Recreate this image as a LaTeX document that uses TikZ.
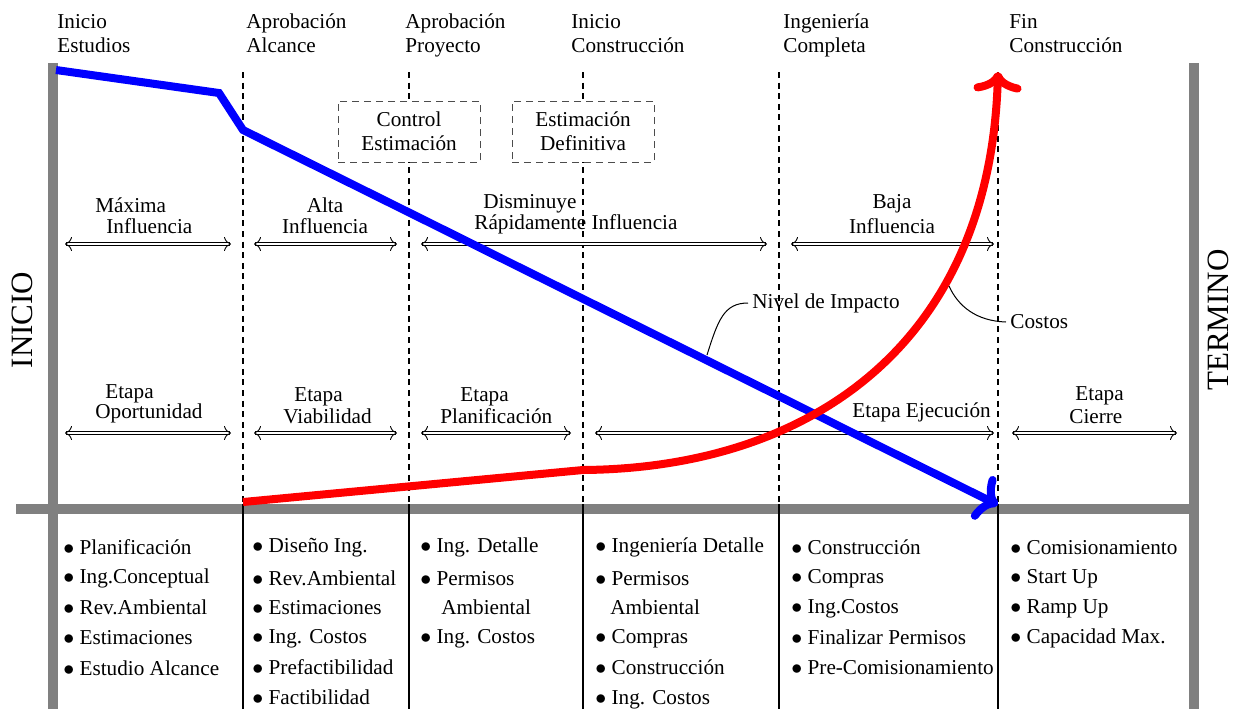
\documentclass[tikz,border=0pt]{standalone}
\usepackage{fontspec}
\setmainfont{Liberation Serif}
\usetikzlibrary{arrows.meta}

\tikzset{
  bar/.style={draw=gray, line width=4.75pt},
  phase/.style={line width=0.8pt, dash pattern=on 3pt off 2.3pt},
  divider/.style={line width=1pt},
  note/.style={draw=black!70, line width=0.5pt, dash pattern=on 3.5pt off 2.5pt,
    fill=white, align=center, minimum width=71pt, minimum height=30.5pt, inner sep=0pt},
  span/.style={double, double distance=0.8pt, line width=0.45pt,
    {To[length=3.5pt,width=7pt]}-{To[length=3.5pt,width=7pt]}},
  impact/.style={blue, line width=4pt, -{To[length=10pt,width=24pt]}},
  cost/.style={red, line width=4pt, -{To[length=10pt,width=24pt]}},
  lbl/.style={inner sep=0pt, anchor=base west, align=left},
  clbl/.style={inner sep=0pt, anchor=base, align=center},
  item/.style={inner sep=0pt, anchor=base west},
  leader/.style={line width=0.5pt},
  side/.style={font=\fontsize{15.5}{18}\selectfont, rotate=90, inner sep=0pt}
}
\newcommand{\bul}{$\bullet$\hspace{0.25em}}

\begin{document}
\begin{tikzpicture}[x=0.5pt, y=-0.5pt, font=\fontsize{10.6}{12}\selectfont]
\useasboundingbox (0,0) rectangle (1236,709);

% milestone dividers: dashed above the time axis, solid below it
\foreach \x [count=\i] in {243,409,583,779,998} {
  \coordinate (mt\i) at (\x,72);
  \coordinate (mm\i) at (\x,504);
  \coordinate (mb\i) at (\x,709);
  \draw[phase] (mt\i) -- (mm\i);
}

% frame bars
\coordinate (lt) at (53,63);   \coordinate (lb) at (53,709);
\coordinate (rt) at (1194,63); \coordinate (rb) at (1194,709);
\coordinate (al) at (16,509);  \coordinate (ar) at (1198,509);
\draw[bar] (lt) -- (lb);
\draw[bar] (rt) -- (rb);
\draw[bar] (al) -- (ar);
\foreach \i in {1,...,5} \draw[divider] (mm\i) -- (mb\i);

% side titles
\node[side] (inicio) at (22,320) {INICIO};
\node[side] (termino) at (1218,320) {TERMINO};

% milestone names
\node[lbl] (m0) at (57,52) {Inicio\\Estudios};
\node[lbl] (m1) at (246,52) {Aprobación\\Alcance};
\node[lbl] (m2) at (405,52) {Aprobación\\Proyecto};
\node[lbl] (m3) at (571,52) {Inicio\\Construcción};
\node[lbl] (m4) at (783,52) {Ingeniería\\Completa};
\node[lbl] (m5) at (1009,52) {Fin\\Construcción};

% estimate boxes
\node[note] (ctrl) at (409,131.5) {Control\\Estimación};
\node[note] (defi) at (583,131.5) {Estimación\\Definitiva};

% influence spans
\coordinate (i1a) at (65,244);  \coordinate (i1b) at (231,244);
\coordinate (i2a) at (254,244); \coordinate (i2b) at (397,244);
\coordinate (i3a) at (421,244); \coordinate (i3b) at (767,244);
\coordinate (i4a) at (791,244); \coordinate (i4b) at (994,244);
\draw[span] (i1a) -- (i1b);
\draw[span] (i2a) -- (i2b);
\draw[span] (i3a) -- (i3b);
\draw[span] (i4a) -- (i4b);
\node[lbl] (inf1) at (95,233) {Máxima\\[-1.5pt]\hspace*{5.5pt}Influencia};
\node[clbl] (inf2) at (325,233) {Alta\\[-1.5pt]Influencia};
\node[lbl] (inf3) at (474,229) {\hspace*{4.5pt}Disminuye\\[-1.5pt]Rápidamente Influencia};
\node[clbl] (inf4) at (892,233) {Baja\\[0.5pt]Influencia};

% stage spans
\coordinate (s1a) at (65,433);   \coordinate (s1b) at (231,433);
\coordinate (s2a) at (254,433);  \coordinate (s2b) at (397,433);
\coordinate (s3a) at (421,433);  \coordinate (s3b) at (571,433);
\coordinate (s4a) at (595,433);  \coordinate (s4b) at (994,433);
\coordinate (s5a) at (1012,433); \coordinate (s5b) at (1177,433);
\draw[span] (s1a) -- (s1b);
\draw[span] (s2a) -- (s2b);
\draw[span] (s3a) -- (s3b);
\draw[span] (s4a) -- (s4b);
\draw[span] (s5a) -- (s5b);
\node[lbl] (st1) at (95,418) {\hspace*{5pt}Etapa\\[-2pt]Oportunidad};
\node[lbl] (st2) at (283,423) {\hspace*{5.5pt}Etapa\\[-1pt]Viabilidad};
\node[lbl] (st3) at (440,423) {\hspace*{10pt}Etapa\\[-1pt]Planificación};
\node[lbl] (st4) at (852,417) {Etapa Ejecución};
\node[lbl] (st5) at (1069,423) {\hspace*{3pt}Etapa\\[-0.5pt]Cierre};

% activities per stage
\node[item] (a11) at (63,554) {\bul Planificación};
\node[item] (a12) at (63,583) {\bul Ing.Conceptual};
\node[item] (a13) at (63,614) {\bul Rev.Ambiental};
\node[item] (a14) at (63,644) {\bul Estimaciones};
\node[item] (a15) at (63,675) {\bul Estudio Alcance};

\node[item] (a21) at (252,552) {\bul Diseño Ing.};
\node[item] (a22) at (252,585) {\bul Rev.Ambiental};
\node[item] (a23) at (252,614) {\bul Estimaciones};
\node[item] (a24) at (252,643) {\bul Ing. Costos};
\node[item] (a25) at (252,674) {\bul Prefactibilidad};
\node[item] (a26) at (252,704) {\bul Factibilidad};

\node[item] (a31) at (420,552) {\bul Ing. Detalle};
\node[item] (a32) at (420,585) {\bul Permisos};
\node[item] (a33) at (441,614) {Ambiental};
\node[item] (a34) at (420,643) {\bul Ing. Costos};

\node[item] (a41) at (595,552) {\bul Ingeniería Detalle};
\node[item] (a42) at (595,585) {\bul Permisos};
\node[item] (a43) at (610,614) {Ambiental};
\node[item] (a44) at (595,643) {\bul Compras};
\node[item] (a45) at (595,674) {\bul Construcción};
\node[item] (a46) at (595,704) {\bul Ing. Costos};

\node[item] (a51) at (791,554) {\bul Construcción};
\node[item] (a52) at (791,583) {\bul Compras};
\node[item] (a53) at (791,613) {\bul Ing.Costos};
\node[item] (a54) at (791,644) {\bul Finalizar Permisos};
\node[item] (a55) at (791,674) {\bul Pre-Comisionamiento};

\node[item] (a61) at (1010,554) {\bul Comisionamiento};
\node[item] (a62) at (1010,583) {\bul Start Up};
\node[item] (a63) at (1010,613) {\bul Ramp Up};
\node[item] (a64) at (1010,643) {\bul Capacidad Max.};

% impact level curve (blue) and cost curve (red)
\coordinate (b0) at (56,70);
\coordinate (b1) at (219,93);
\coordinate (b2) at (243,130);
\coordinate (b3) at (998,505);
\draw[impact, line join=miter] (b0) -- (b1) -- (b2) -- (b3);

\coordinate (r0) at (243,502);
\coordinate (r1) at (583,470);
\coordinate (r2) at (998,72);
\draw[cost] (r0) -- (r1) .. controls (815,468) and (990,340) .. (r2);

% curve labels
\node[inner sep=0pt, anchor=west] (nivel) at (752,303) {Nivel de Impacto};
\node[inner sep=0pt, anchor=west] (costos) at (1010,322) {Costos};
\coordinate (np) at (707,355);
\coordinate (cp) at (949,286);
\draw[leader] (np) .. controls (718,320) and (724,303) .. ([xshift=-2pt]nivel.west);
\draw[leader] (cp) .. controls (958,306) and (976,321) .. ([xshift=-2pt]costos.west);
\end{tikzpicture}
\end{document}
